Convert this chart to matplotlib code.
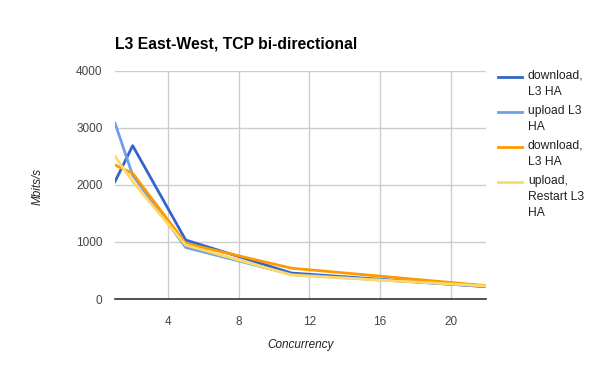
import matplotlib
matplotlib.use("Agg")
import matplotlib.pyplot as plt
from matplotlib.lines import Line2D

plt.rcParams['font.family'] = ['Liberation Sans', 'DejaVu Sans']

concurrency = [1, 2, 5, 11, 22]
download_l3ha = [2060, 2690, 1035, 455, 216]
upload_l3ha = [3085, 2170, 905, 430, 220]
download_l3ha_2 = [2350, 2205, 975, 540, 234]
upload_restart = [2500, 2060, 945, 420, 228]

series = [
    (download_l3ha, "download,\nL3 HA", "#3366cc", 2.0),
    (upload_l3ha, "upload L3\nHA", "#6d9eeb", 2.0),
    (download_l3ha_2, "download,\nL3 HA", "#ff9900", 2.0),
    (upload_restart, "upload,\nRestart L3\nHA", "#ffd966", 2.0),
]

xticks = [4, 8, 12, 16, 20]
yticks = [0, 1000, 2000, 3000, 4000]

fig = plt.figure(figsize=(6, 3.71), dpi=100)
ax = fig.add_axes([115/600, 1-299/371, (486-115)/600, (299-71)/371])

for vals, lab, col, lw in series:
    ax.plot(concurrency, vals, color=col, lw=lw, solid_joinstyle='round')

ax.set_xlim(1, 22)
ax.set_ylim(0, 4000)
ax.set_xticks(xticks)
ax.set_yticks(yticks)
ax.grid(True, color='#cccccc', lw=1)
ax.set_axisbelow(True)
for s in ['top', 'right', 'left']:
    ax.spines[s].set_visible(False)
ax.spines['bottom'].set_color('#333333')
ax.spines['bottom'].set_linewidth(1.2)
ax.tick_params(axis='both', length=0, labelsize=8.5, labelcolor='#444444')
ax.tick_params(axis='x', pad=12)
ax.tick_params(axis='y', pad=9)

fig.text(115/600, 1-44/371, "L3 East-West, TCP bi-directional", fontsize=11.3,
         fontweight='bold', va='center', ha='left', color='#000000')
fig.text(38/600, 1-186/371, "Mbits/s", rotation=90, fontsize=8.5, style='italic',
         va='center', ha='center', color='#222222')
fig.text(301/600, 1-345/371, "Concurrency", fontsize=8.5, style='italic',
         va='center', ha='center', color='#222222')

# legend
line_h = 17.5
y = 77
for vals, lab, col, lw in series:
    fig.add_artist(Line2D([498/600, 522/600], [1-y/371, 1-y/371], color=col, lw=2))
    nlines = lab.count("\n") + 1
    fig.text(528/600, 1-(y-7)/371, lab, fontsize=8.7, va='top', ha='left',
             color='#222222', linespacing=1.45)
    y += nlines * line_h

fig.savefig("out.png", dpi=100)
